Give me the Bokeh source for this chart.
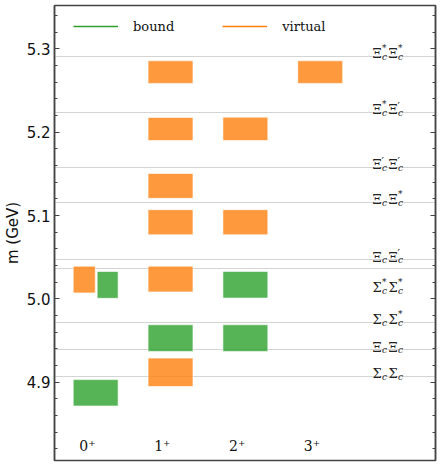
from bokeh.plotting import figure
from bokeh.models import (ColumnDataSource, Range1d, LinearAxis, SingleIntervalTicker,
                          NumeralTickFormatter, Legend, LegendItem)
from bokeh.core.properties import value
from bokeh.embed import file_html
from bokeh.resources import INLINE

# ---------------- data ----------------
jp_labels = ["0⁺", "1⁺", "2⁺", "3⁺"]

threshold_labels = ["Σ_c Σ_c", "Ξ_c Ξ_c", "Σ_c Σ_c^*", "Σ_c^* Σ_c^*", "Ξ_c Ξ_c^′",
                    "Ξ_c Ξ_c^*", "Ξ_c^′ Ξ_c^′", "Ξ_c^* Ξ_c^′", "Ξ_c^* Ξ_c^*"]
threshold_masses = [4.907, 4.939, 4.972, 5.036, 5.047, 5.116, 5.158, 5.224, 5.291]

box_jp = [1, 1, 1, 1, 1, 1, 1, 2, 2, 2, 2, 3, 0, 0, 0]
box_slot = ["full"] * 12 + ["left", "right", "full"]
box_kind = ["virtual", "virtual", "virtual", "virtual", "virtual", "bound", "virtual",
            "virtual", "virtual", "bound", "bound",
            "virtual",
            "virtual", "bound", "bound"]
box_lo = [5.2585, 5.190, 5.1206, 5.077, 5.0084, 4.937, 4.895,
          5.190, 5.077, 5.001, 4.937,
          5.2585,
          5.0072, 5.0007, 4.8716]
box_hi = [5.2856, 5.2177, 5.1505, 5.107, 5.0393, 4.969, 4.929,
          5.218, 5.107, 5.033, 4.969,
          5.2856,
          5.0393, 5.0329, 4.9032]

kind_names = ["bound", "virtual"]
kind_colors = {"bound": "#2ca02c", "virtual": "#ff7f0e"}

# ---------------- figure ----------------
x_lo, x_hi = -0.55, 4.54
p = figure(width=438, height=463, output_backend="svg", toolbar_location=None,
           x_range=Range1d(x_lo, x_hi), y_range=Range1d(4.8062, 5.3519),
           x_axis_location=None, min_border_left=53, min_border_right=3,
           min_border_top=5, min_border_bottom=3)
p.grid.visible = False
p.outline_line_color = "#444444"
p.outline_line_width = 1.5
p.background_fill_color = "white"
p.border_fill_color = "white"

ticker = SingleIntervalTicker(interval=0.1, num_minor_ticks=5)
yax = p.yaxis[0]
yax.ticker = ticker
yax.formatter = NumeralTickFormatter(format="0.0")
yax.axis_label = "m (GeV)"
yax.axis_label_text_font = "DejaVu Sans"
yax.axis_label_text_font_style = "normal"
yax.axis_label_text_font_size = "15px"
yax.axis_label_text_color = "#111111"
yax.axis_label_standoff = 2
yax.major_label_text_font = "DejaVu Sans"
yax.major_label_text_font_size = "15px"
yax.major_label_text_color = "#111111"
yax.major_label_standoff = 4
yax.axis_line_color = "#444444"
yax.axis_line_width = 1.5
yax.major_tick_in = 5
yax.major_tick_out = 0
yax.minor_tick_in = 3
yax.minor_tick_out = 0
yax.major_tick_line_color = "#444444"
yax.minor_tick_line_color = "#444444"

# right-hand axis: ticks only (labels not painted)
rax = LinearAxis(ticker=ticker, major_label_standoff=0, major_label_text_font_size="1px",
                 major_label_text_color=None,
                 axis_line_color="#444444", axis_line_width=1.5,
                 major_tick_in=5, major_tick_out=0, minor_tick_in=3, minor_tick_out=0,
                 major_tick_line_color="#444444", minor_tick_line_color="#444444")
p.add_layout(rax, "right")

# threshold lines
p.hspan(y=threshold_masses, line_color="#a8a8a8", line_dash="1 1", line_width=1)

# boxes
half = 0.3
lefts, rights, colors = [], [], []
for j, s, k in zip(box_jp, box_slot, box_kind):
    if s == "full":
        l, r = j - half, j + half
    elif s == "left":
        l, r = j - half, j - 0.005
    else:
        l, r = j + 0.02, j + half
    lefts.append(l)
    rights.append(r)
    colors.append(kind_colors[k])
bsrc = ColumnDataSource(dict(left=lefts, right=rights, bottom=box_lo, top=box_hi, color=colors))
p.quad(left="left", right="right", bottom="bottom", top="top", source=bsrc,
       fill_color="color", fill_alpha=0.8, line_color="white", line_alpha=0.6, line_width=1)

# J^P labels
p.text(x=[i - 0.11 for i in range(len(jp_labels))], y=[4.823] * len(jp_labels), text=jp_labels,
       text_font=value("DejaVu Serif"), text_font_size="14px", text_align="center",
       text_baseline="middle", text_color="#111111")

# threshold labels built from main letters with sub/superscripts
label_x = 3.70
main_w, token_adv = 9.5, 16.0
mx, my, mt, mo, mdy = [], [], [], [], []
sx, sy, st, so, sdy = [], [], [], [], []
ux, uy, ut, uo, udy, us = [], [], [], [], [], []
for lab, m in zip(threshold_labels, threshold_masses):
    # the Sigma_c^* Sigma_c^* label sits below its line, the others above
    base = 19.0 if lab == "Σ_c^* Σ_c^*" else -2.5
    cursor = 0.0
    for tok in lab.split(" "):
        sup = ""
        if "^" in tok:
            tok, sup = tok.split("^")
        main, sub = tok.split("_")
        mx.append(label_x); my.append(m); mt.append(main); mo.append(cursor); mdy.append(base)
        sx.append(label_x); sy.append(m); st.append(sub); so.append(cursor + main_w); sdy.append(base + 3)
        if sup:
            ux.append(label_x); uy.append(m); ut.append(sup)
            uo.append(cursor + main_w - (0.5 if sup == "′" else 0))
            udy.append(base - (3.5 if sup == "′" else 5.5))
            us.append("11px" if sup == "′" else "9px")
        cursor += token_adv
msrc = ColumnDataSource(dict(x=mx, y=my, text=mt, xo=mo, yo=mdy))
ssrc = ColumnDataSource(dict(x=sx, y=sy, text=st, xo=so, yo=sdy))
usrc = ColumnDataSource(dict(x=ux, y=uy, text=ut, xo=uo, yo=udy, fs=us))
p.text(x="x", y="y", text="text", x_offset="xo", y_offset="yo", source=msrc,
       text_font=value("DejaVu Serif"), text_font_size="13px", text_align="left",
       text_baseline="alphabetic", text_color="#222222")
p.text(x="x", y="y", text="text", x_offset="xo", y_offset="yo", source=ssrc,
       text_font=value("DejaVu Serif"), text_font_size="9px", text_font_style="italic",
       text_align="left", text_baseline="alphabetic", text_color="#222222")
p.text(x="x", y="y", text="text", x_offset="xo", y_offset="yo", source=usrc,
       text_font=value("DejaVu Serif"), text_font_size="fs", text_align="left",
       text_baseline="alphabetic", text_color="#222222")

# legend
items = []
for k in kind_names:
    r = p.line(x=[float("nan")], y=[float("nan")], line_color=kind_colors[k], line_width=1.5)
    items.append(LegendItem(label=k, renderers=[r]))
legend = Legend(items=items, orientation="horizontal", location=(19, 426), margin=0,
                padding=0, glyph_width=45, glyph_height=16, label_height=16,
                label_standoff=15, spacing=48, border_line_color=None,
                background_fill_alpha=0, label_text_font="DejaVu Serif",
                label_text_font_size="13px", label_text_color="#111111")
p.add_layout(legend)

open("out.html", "w").write(file_html(p, INLINE))
